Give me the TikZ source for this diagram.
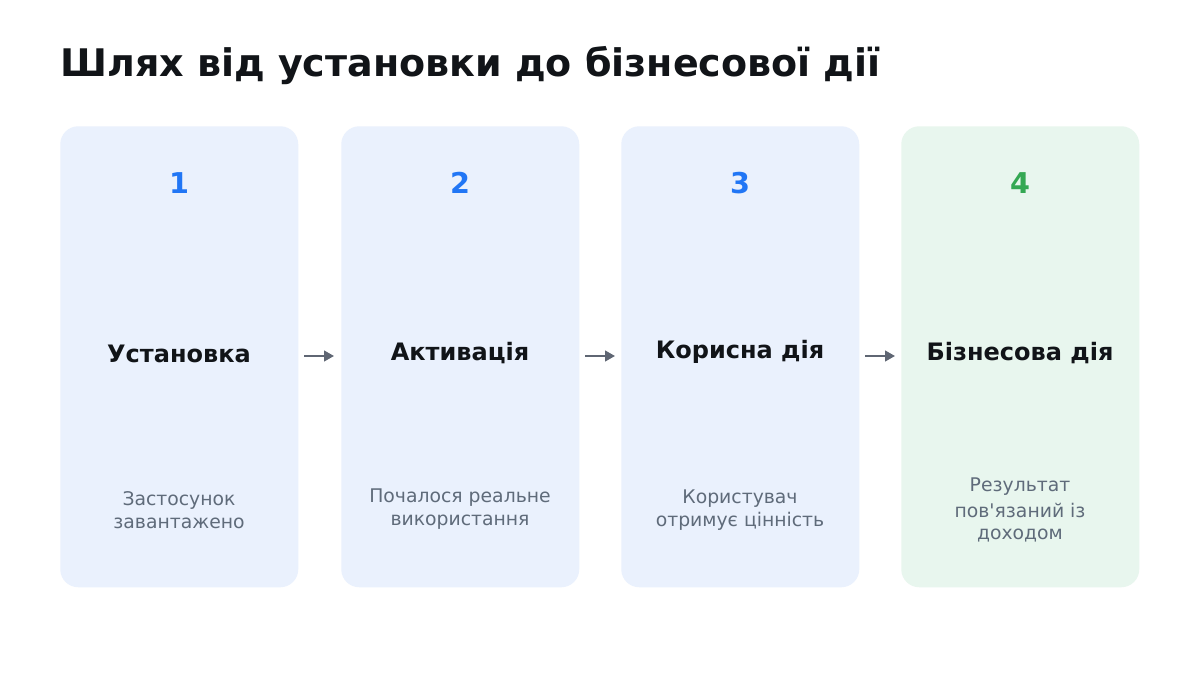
\documentclass[tikz,border=0pt]{standalone}
\usepackage{fontspec}
\setmainfont{DejaVu Sans}[Ligatures=TeXOff]
\usetikzlibrary{arrows.meta}
\definecolor{boxblue}{HTML}{EAF1FD}
\definecolor{boxgreen}{HTML}{E8F6EE}
\definecolor{numblue}{HTML}{2176F5}
\definecolor{numgreen}{HTML}{34A853}
\definecolor{txtdark}{HTML}{111418}
\definecolor{txtgray}{HTML}{5F6B7A}
\definecolor{arrgray}{HTML}{5F6673}
\tikzset{
  card/.style={rounded corners=13.5pt, inner sep=0pt, minimum width=178.5pt, minimum height=345.75pt, draw=none},
  numtxt/.style={font=\bfseries\fontsize{21.5}{25}\selectfont, inner sep=0pt},
  headtxt/.style={font=\bfseries\fontsize{18}{22}\selectfont, text=txtdark, inner sep=0pt},
  desctxt/.style={font=\fontsize{14.1}{17.3}\selectfont, text=txtgray, align=center, inner sep=0pt},
  flow/.style={draw=arrgray, line width=1.6pt, -{Triangle[length=7.5pt,width=8pt]}}
}
\begin{document}
\begin{tikzpicture}[x=0.75pt,y=-0.75pt]
\useasboundingbox[fill=white] (0,0) rectangle (1200,700);
\node[anchor=base west, font=\bfseries\fontsize{28.5}{34}\selectfont, text=txtdark, inner sep=0pt] (title) at (60,76) {Шлях від установки до бізнесової дії};
% cards
\node[card, fill=boxblue, anchor=north west] (c1) at (60,126) {};
\node[card, fill=boxblue, anchor=north west] (c2) at (341,126) {};
\node[card, fill=boxblue, anchor=north west] (c3) at (621,126) {};
\node[card, fill=boxgreen, anchor=north west] (c4) at (901,126) {};
% numbers
\node[numtxt, text=numblue] (n1) at (179,183) {1};
\node[numtxt, text=numblue] (n2) at (460,183) {2};
\node[numtxt, text=numblue] (n3) at (740,183) {3};
\node[numtxt, text=numgreen] (n4) at (1020,183) {4};
% headings
\node[headtxt] (h1) at (179,354) {Установка};
\node[headtxt] (h2) at (460,353) {Активація};
\node[headtxt] (h3) at (740,352) {Корисна дія};
\node[headtxt] (h4) at (1020,353) {Бізнесова дія};
% descriptions
\node[desctxt] (d1) at (179,510) {Застосунок\\завантажено};
\node[desctxt] (d2) at (460,509) {Почалося реальне\\використання};
\node[desctxt] (d3) at (740,510) {Користувач\\отримує цінність};
\node[desctxt] (d4) at (1020,510) {Результат\\[2pt]пов'язаний із\\[-1pt]доходом};
% arrows
\coordinate (a1s) at (304,356); \coordinate (a1e) at (334,356);
\coordinate (a2s) at (585,356); \coordinate (a2e) at (615,356);
\coordinate (a3s) at (865,356); \coordinate (a3e) at (895,356);
\draw[flow] (a1s) -- (a1e);
\draw[flow] (a2s) -- (a2e);
\draw[flow] (a3s) -- (a3e);
\end{tikzpicture}
\end{document}
